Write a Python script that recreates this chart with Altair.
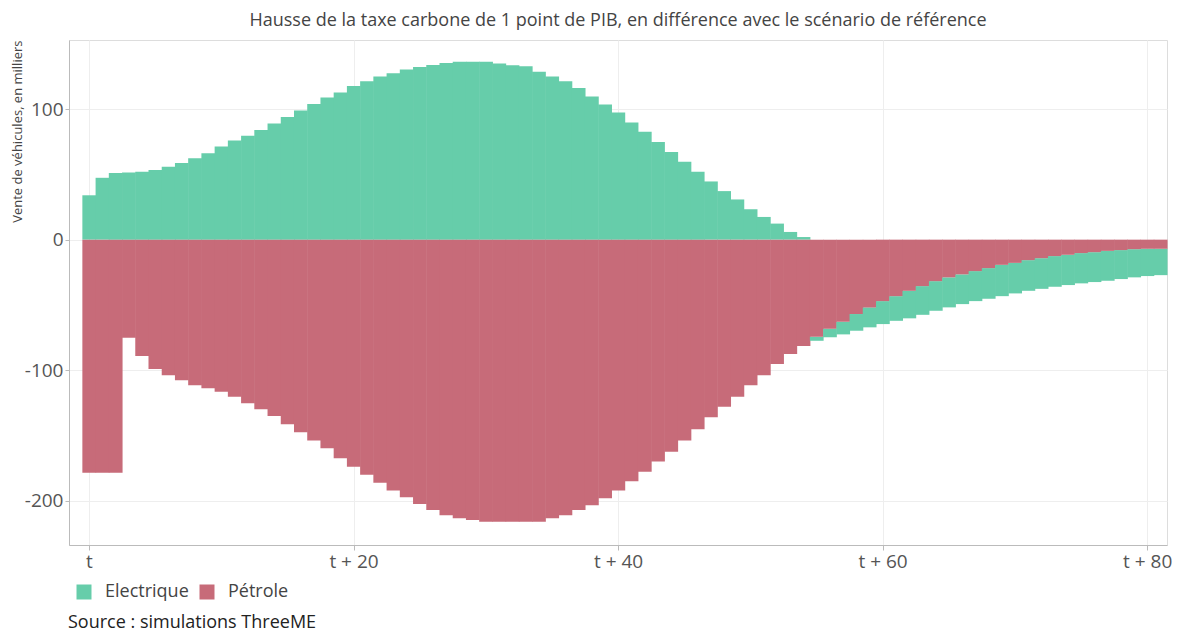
import altair as alt
import pandas as pd

periods = list(range(82))

electrique = [
    34.0, 47.4, 51.0, 51.5, 52.1, 53.3, 55.9, 58.7, 62.3, 66.2,
    71.3, 75.9, 79.6, 84.1, 89.0, 94.0, 98.9, 104.0, 108.9, 112.7,
    117.8, 121.4, 125.0, 127.5, 130.3, 132.3, 133.8, 135.4, 136.4, 136.4,
    136.4, 134.9, 133.6, 132.8, 128.7, 125.1, 121.3, 116.2, 109.7, 103.6,
    97.4, 89.7, 82.6, 74.9, 67.2, 59.7, 52.1, 44.6, 37.2, 30.8,
    23.3, 17.4, 12.3, 5.9, 2.0, -3.1, -6.6, -9.7, -12.8, -15.3,
    -17.6, -18.9, -21.1, -22.0, -22.7, -23.0, -22.8, -23.0, -23.5, -24.0,
    -23.4, -23.5, -23.5, -23.5, -23.2, -23.2, -22.9, -22.9, -22.2, -21.6,
    -20.9, -20.2,
]

petrole = [
    -178.6, -178.6, -178.6, -75.2, -89.2, -99.2, -104.0, -107.8, -111.6, -113.9,
    -116.5, -120.3, -125.4, -130.0, -135.1, -141.5, -147.6, -154.0, -159.9, -167.5,
    -174.0, -180.1, -186.2, -192.3, -197.4, -202.5, -207.1, -211.2, -213.5, -214.8,
    -216.1, -216.1, -216.1, -216.1, -216.1, -213.5, -211.2, -207.1, -203.5, -198.2,
    -192.3, -185.2, -177.8, -170.1, -162.5, -154.0, -145.3, -136.1, -128.0, -120.3,
    -111.6, -104.0, -95.3, -87.7, -81.5, -74.4, -68.2, -62.9, -57.0, -51.9,
    -47.1, -43.3, -39.2, -35.6, -31.8, -28.9, -26.6, -24.1, -21.8, -19.3,
    -17.8, -15.7, -14.2, -12.6, -11.6, -10.3, -9.6, -8.6, -8.0, -7.3,
    -7.0, -7.0,
]

series_names = ["Electrique", "Pétrole"]
series_colors = ["#66CDAA", "#C76B79"]
x_ticks = [0, 20, 40, 60, 80]
y_ticks = [-200, -100, 0, 100]

title_text = "Hausse de la taxe carbone de 1 point de PIB, en différence avec le scénario de référence"
y_title = "Vente de véhicules, en milliers"
source_text = "Source : simulations ThreeME"

rows = []
for p, e, q in zip(periods, electrique, petrole):
    rows.append({"period": p, "serie": "Electrique", "value": e, "ord": 1})
    rows.append({"period": p, "serie": "Pétrole", "value": q, "ord": 0})
df = pd.DataFrame(rows)

FONT = "Open Sans"

color_scale = alt.Scale(domain=series_names, range=series_colors)

bars = (
    alt.Chart(df)
    .transform_stack(
        stack="value",
        groupby=["period"],
        as_=["y0", "y1"],
        offset="zero",
        sort=[alt.SortField("ord", order="ascending")],
    )
    .transform_calculate(x0="datum.period - 0.5", x1="datum.period + 0.54")
    .mark_bar(strokeWidth=0)
    .encode(
        x=alt.X(
            "x0:Q",
            scale=alt.Scale(domain=[-1.51, 81.5], nice=False, zero=False),
            axis=alt.Axis(
                values=x_ticks,
                labelExpr="datum.value == 0 ? 't' : 't + ' + datum.value",
                title=None,
                grid=True,
                gridColor="#eeeeee",
                domainColor="#bbbbbb",
                tickColor="#bbbbbb",
                tickSize=5,
                labelPadding=2,
                labelFontSize=19,
                labelColor="#555555",
                labelFont=FONT,
            ),
        ),
        x2="x1:Q",
        y=alt.Y(
            "y0:Q",
            scale=alt.Scale(domain=[-234, 153], nice=False, zero=False),
            axis=alt.Axis(
                values=y_ticks,
                labelExpr="datum.value < 0 ? '-' + abs(datum.value) : '' + datum.value",
                title=y_title,
                titleFont=FONT,
                titleFontSize=13,
                titleFontWeight="normal",
                titleColor="#444444",
                titleAngle=270,
                titleX=-52,
                titleY=0,
                titleAlign="right",
                titleBaseline="middle",
                grid=True,
                gridColor="#eeeeee",
                domainColor="#bbbbbb",
                tickColor="#bbbbbb",
                tickSize=4,
                labelPadding=2,
                labelFontSize=19,
                labelColor="#555555",
                labelFont=FONT,
            ),
        ),
        y2="y1:Q",
        color=alt.Color(
            "serie:N",
            scale=color_scale,
            legend=alt.Legend(
                title=None,
                orient="none",
                legendX=6,
                legendY=543,
                direction="horizontal",
                symbolType="square",
                symbolSize=225,
                symbolStrokeWidth=0,
                labelFont=FONT,
                labelFontSize=18,
                labelColor="#444444",
                labelOffset=12,
                columnPadding=9,
                padding=0,
            ),
        ),
    )
)

source = (
    alt.Chart(pd.DataFrame({"txt": [source_text]}))
    .mark_text(align="left", baseline="middle", font=FONT, fontSize=18, color="#222222")
    .encode(x=alt.value(-1), y=alt.value(583), text="txt:N")
)

chart = (
    alt.layer(bars, source)
    .properties(
        width=1098,
        height=505,
        title=alt.Title(
            title_text,
            font=FONT,
            fontSize=18,
            fontWeight="normal",
            color="#444444",
            anchor="middle",
            offset=10,
        ),
        autosize=alt.AutoSizeParams(type="none"),
        padding={"left": 61, "top": 32, "right": 8, "bottom": 88},
    )
    .configure_view(strokeWidth=0, stroke="transparent")
    .configure(background="white")
)

chart.save("out.html", embed_options={"renderer": "svg", "actions": False})
